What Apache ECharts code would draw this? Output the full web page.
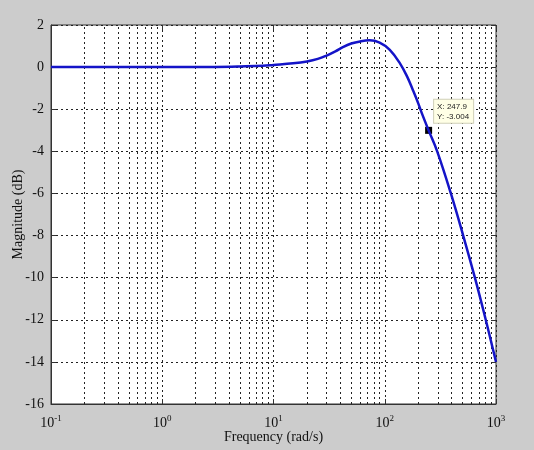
<!DOCTYPE html>
<html>
<head>
<meta charset="utf-8">
<script src="https://cdn.jsdelivr.net/npm/echarts@6/dist/echarts.min.js"></script>
<style>
  html, body { margin: 0; padding: 0; background: #cccccc; }
  #chart { width: 534px; height: 450px; }
</style>
</head>
<body>
<div id="chart"></div>
<script>
const freq = [0.1, 1, 3, 5, 8, 10, 15, 20, 25, 30, 36, 42, 50, 60, 73, 90, 111, 137, 159, 180, 200, 214,
              247.9, 296, 393, 507, 646, 809, 1000];
const mag = [0, 0, 0.01, 0.03, 0.06, 0.1, 0.18, 0.27, 0.39, 0.55, 0.75, 0.95, 1.12, 1.22, 1.27, 1.16, 0.82, 0.18, -0.45, -1.12, -1.72, -2.15,
             -3.004, -4.0, -6.0, -8.0, -10.0, -12.0, -14.0];
const minorX = [0.2, 0.3, 0.4, 0.5, 0.6, 0.7, 0.8, 0.9,
                2, 3, 4, 5, 6, 7, 8, 9,
                20, 30, 40, 50, 60, 70, 80, 90,
                200, 300, 400, 500, 600, 700, 800, 900];
const tip = [247.9, -3.004];

const serif = 'Liberation Serif';
const dotted = {color: '#222', width: 1, type: [2, 3]};

let chart = echarts.init(document.getElementById('chart'));

let option = {
  backgroundColor: '#cccccc',
  animation: false,
  grid: {left: 51, right: 38, top: 25, bottom: 46, show: true,
         outerBoundsMode: 'none', containLabel: false,
         backgroundColor: '#ffffff', borderColor: '#333', borderWidth: 1},
  xAxis: [{
    type: 'log', logBase: 10, min: 0.1, max: 1000,
    name: 'Frequency (rad/s)', nameLocation: 'middle', nameGap: 26, nameMoveOverlap: false,
    nameTextStyle: {fontFamily: serif, fontSize: 14, color: '#111'},
    axisLine: {onZero: false, lineStyle: {color: '#333'}},
    axisTick: {inside: true, length: 5, lineStyle: {color: '#333'}},
    axisLabel: {
      margin: 10,
      formatter: function(v) {
        return '{b|10}{s|' + Math.round(Math.log10(v)) + '}';
      },
      rich: {
        b: {fontFamily: serif, fontSize: 14, color: '#111'},
        s: {fontFamily: serif, fontSize: 9, color: '#111', padding: [0, 0, 10, 0]}
      }
    },
    splitLine: {show: true, lineStyle: dotted}
  }, {
    type: 'log', logBase: 10, min: 0.1, max: 1000, position: 'top',
    axisLine: {show: false, onZero: false}, axisLabel: {show: false}, splitLine: {show: false},
    axisTick: {inside: true, length: 5, lineStyle: {color: '#333'}}
  }],
  yAxis: [{
    type: 'value', min: -16, max: 2, interval: 2,
    name: 'Magnitude (dB)', nameLocation: 'middle', nameGap: 26, nameMoveOverlap: false,
    nameTextStyle: {fontFamily: serif, fontSize: 14, color: '#111'},
    axisLine: {show: true, onZero: false, lineStyle: {color: '#333'}},
    axisTick: {inside: true, length: 5, lineStyle: {color: '#333'}},
    axisLabel: {fontFamily: serif, fontSize: 14, color: '#111', margin: 7},
    splitLine: {show: true, lineStyle: dotted}
  }, {
    type: 'value', min: -16, max: 2, interval: 2, position: 'right',
    axisLine: {show: false, onZero: false}, axisLabel: {show: false}, splitLine: {show: false},
    axisTick: {show: true, inside: true, length: 5, lineStyle: {color: '#333'}}
  }],
  series: [{
    type: 'line',
    data: freq.map((f, i) => [f, mag[i]]),
    smooth: 0.4,
    showSymbol: false,
    lineStyle: {color: '#1414c8', width: 2.5},
    silent: true,
    z: 5,
    markLine: {
      silent: true, symbol: 'none', label: {show: false},
      lineStyle: dotted,
      animation: false,
      data: minorX.map(v => ({xAxis: v}))
    },
    markPoint: {
      silent: true,
      data: [{
        coord: tip, symbol: 'rect', symbolSize: 7,
        itemStyle: {color: '#000'},
        label: {
          show: true, position: 'right',
          formatter: 'X: ' + tip[0] + '\nY: ' + tip[1],
          offset: [-3, -19],
          fontFamily: 'Liberation Sans', fontSize: 8, lineHeight: 10, color: '#222',
          backgroundColor: '#ffffe6', borderColor: '#cfcfb8', borderWidth: 1,
          padding: [2, 4, 1, 3]
        }
      }]
    }
  }]
};
chart.setOption(option);
</script>
</body>
</html>
